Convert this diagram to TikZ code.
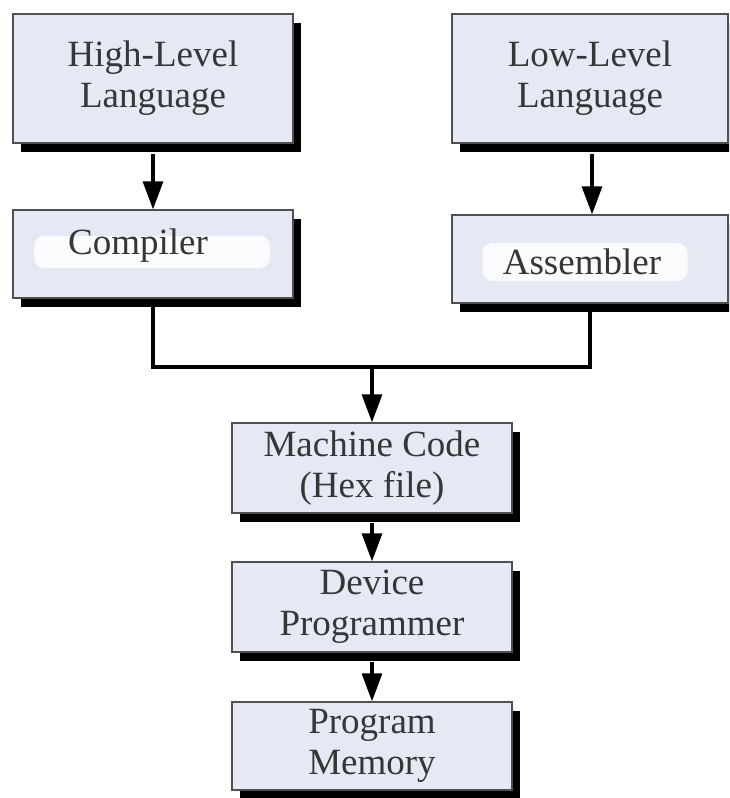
\documentclass[tikz,border=0pt]{standalone}
\usepackage{fontspec}
\setmainfont{Liberation Serif}
\usetikzlibrary{arrows.meta,shadows}
\definecolor{boxfill}{HTML}{E4E9F3}
\definecolor{boxline}{HTML}{505050}
\definecolor{txt}{HTML}{363636}
\begin{document}
\begin{tikzpicture}[x=1pt,y=-1pt,
  blk/.style={draw=boxline,line width=1.3pt,fill=boxfill,text=txt,align=center,
    inner sep=0pt,font=\fontsize{37}{41}\selectfont,
    drop shadow={shadow xshift=8pt,shadow yshift=-9pt,fill=black,opacity=1}},
  conn/.style={line width=3.2pt,black},
  arr/.style={conn,-{Triangle[length=28pt,width=20pt]}},
  patch/.style={fill=white,draw=none,inner sep=0pt,rounded corners=10pt,opacity=0.85}]
\useasboundingbox (0,0) rectangle (729,798);
\begin{scope}
\clip (0,0) rectangle (729,798);
\node[blk,minimum width=280pt,minimum height=129pt] (hl) at (153,78.5) {High-Level\\Language};
\node[blk,minimum width=276pt,minimum height=129pt] (ll) at (590,78.5) {Low-Level\\Language};
\node[blk,minimum width=280pt,minimum height=88pt] (comp) at (153,254) {};
\node[blk,minimum width=276pt,minimum height=88pt] (asm) at (590,259) {};
\node[patch,minimum width=236pt,minimum height=32pt] (cp) at (152,252) {};
\node[patch,minimum width=205pt,minimum height=38pt] (ap) at (585,262) {};
\node[text=txt,font=\fontsize{37}{41}\selectfont] (ct) at (138,246) {Compiler};
\node[text=txt,font=\fontsize{37}{41}\selectfont] (at) at (582,262) {Assembler};
\node[blk,minimum width=280pt,minimum height=90pt] (mc) at (372,468) {Machine Code\\(Hex file)};
\node[blk,minimum width=280pt,minimum height=90pt] (dp) at (372,607) {Device\\Programmer};
\node[blk,minimum width=280pt,minimum height=88pt] (pm) at (372,746) {Program\\Memory};
\coordinate (j) at (372,367);
\draw[arr] (hl.south) ++(0,10) coordinate (hls) (hls) -- (comp.north);
\draw[arr] (ll.south) ++(2,10) coordinate (lls) (lls) -- (asm.north -| lls);
\draw[conn] (comp.south) |- (j) -| (asm.south);
\draw[arr] (j) -- (mc.north);
\draw[arr] (mc.south) ++(0,9) coordinate (mcs) (mcs) -- (dp.north);
\draw[arr] (dp.south) ++(0,9) coordinate (dps) (dps) -- (pm.north);
\end{scope}
\end{tikzpicture}
\end{document}
